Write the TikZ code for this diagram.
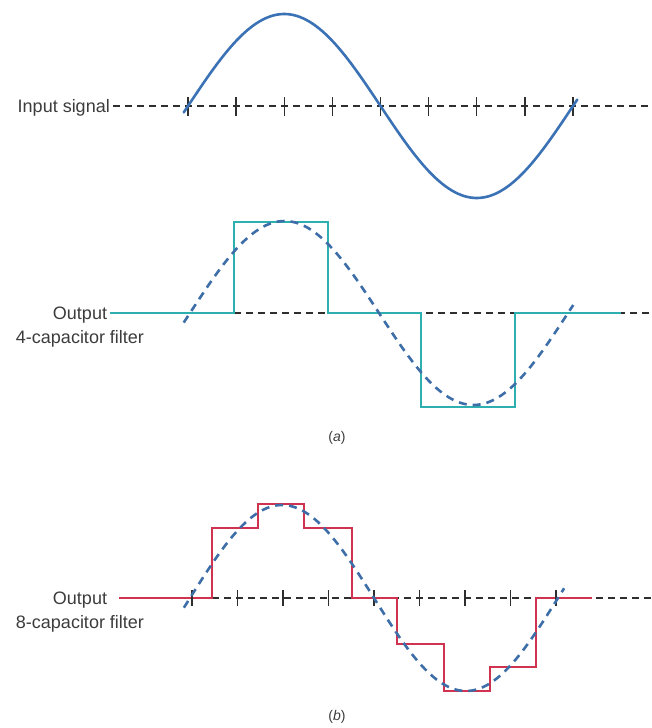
\documentclass[tikz,border=0pt]{standalone}
\usepackage{fontspec}
\setmainfont{Liberation Sans}
\definecolor{axisgray}{HTML}{2E2E2E}
\definecolor{sineblue}{HTML}{3A72B5}
\definecolor{dashblue}{HTML}{3E6EA8}
\definecolor{tealc}{HTML}{2FB0B0}
\definecolor{redc}{HTML}{D0334F}
\definecolor{labelgray}{HTML}{3C3C3C}
\begin{document}
\begin{tikzpicture}[x=1pt,y=-1pt,
  axisdash/.style={draw=axisgray, line width=1.4pt, dash pattern=on 7pt off 5pt},
  tickmark/.style={draw=axisgray, line width=1.4pt},
  insine/.style={draw=sineblue, line width=2.6pt, line cap=round},
  refsine/.style={draw=dashblue, line width=2.6pt, dash pattern=on 8pt off 6pt},
  fourcap/.style={draw=tealc, line width=1.4pt},
  eightcap/.style={draw=redc, line width=1.4pt},
  lbl/.style={text=labelgray, font=\fontsize{18}{22}\selectfont, inner sep=0pt},
  caption/.style={text=labelgray, font=\fontsize{14}{16}\selectfont, inner sep=0pt}]
\useasboundingbox (0,0) rectangle (652,728);

% ---------- input signal ----------
\node[lbl, anchor=base east] (inlbl) at (110,112) {Input signal};
\coordinate (topL) at (113,106);
\coordinate (topR) at (652,106);
\draw[axisdash] (topL) -- (topR);
\foreach \k in {0,...,8} \draw[tickmark] ({188+48.125*\k},97) -- ({188+48.125*\k},116);
\draw[insine] plot[domain=-4:364, samples=120, smooth] ({188+\x*1.069444},{106-92*sin(\x)});

% ---------- 4-capacitor output ----------
\node[lbl, anchor=base] (out4a) at (80,319) {Output};
\node[lbl, anchor=base] (out4b) at (80,343) {4-capacitor filter};
\coordinate (midL) at (234,313);
\coordinate (midR) at (652,313);
\draw[axisdash] (midL) -- (midR);
\draw[fourcap] (110,313) -- (234,313) -- (234,222) -- (328,222) -- (328,313)
  -- (421,313) -- (421,407) -- (515,407) -- (515,313) -- (621,313);
\draw[refsine] plot[domain=-6:365, samples=120, smooth] ({190+\x*1.05},{313-92*sin(\x)});
\node[caption] (capa) at (337,438) {(\textit{a})};

% ---------- 8-capacitor output ----------
\node[lbl, anchor=base] (out8a) at (80,604) {Output};
\node[lbl, anchor=base] (out8b) at (80,628) {8-capacitor filter};
\coordinate (botL) at (200,598);
\coordinate (botR) at (652,598);
\draw[axisdash] (botL) -- (botR);
\draw[eightcap] (119,598) -- (212,598) -- (212,528) -- (258,528) -- (258,504)
  -- (304,504) -- (304,528) -- (352,528) -- (352,598) -- (397,598) -- (397,644)
  -- (444,644) -- (444,691) -- (490,691) -- (490,667) -- (536,667) -- (536,598)
  -- (592,598);
\foreach \k in {0,...,8} \draw[tickmark] ({192+45.5*\k},590) -- ({192+45.5*\k},606);
\draw[refsine] plot[domain=-6:366, samples=120, smooth] ({190+\x*1.022222},{598-93*sin(\x)});
\node[caption] (capb) at (337,717) {(\textit{b})};
\end{tikzpicture}
\end{document}
